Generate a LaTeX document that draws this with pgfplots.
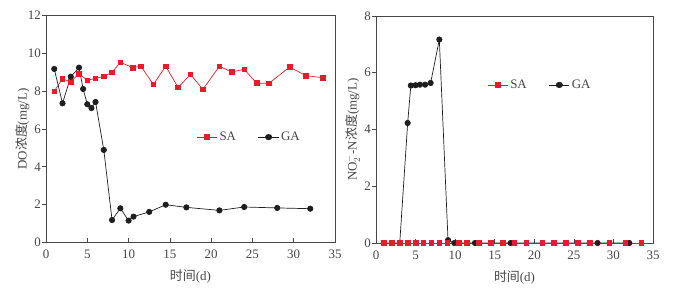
\documentclass[border=0pt]{standalone}
\usepackage{fontspec}
\setmainfont{Liberation Serif}
\newfontfamily\cjk{Noto Sans CJK SC}
\usepackage{pgfplots}
\pgfplotsset{compat=1.18}
\definecolor{sared}{RGB}{226,30,42}
\definecolor{gablack}{RGB}{30,30,30}
\definecolor{axgray}{RGB}{70,70,70}
\newcommand{\myfont}{\fontsize{13}{15}\selectfont}
\pgfplotsset{
  myaxis/.style={
    scale only axis,
    xmin=0, xmax=35,
    xtick={0,5,...,35},
    ymin=0,
    axis line style={axgray, line width=0.8pt},
    every tick/.style={axgray, line width=0.7pt},
    xtick pos=bottom, ytick pos=left,
    xtick align=inside, ytick align=outside,
    major tick length=4bp,
    tick label style={text=axgray, font=\myfont},
    yticklabel style={inner sep=1pt},
    xticklabel style={inner sep=7.5pt},
    /pgf/number format/assume math mode=true,
    label style={text=axgray, font=\myfont},
    xlabel={{\cjk 时间}(d)},
    xlabel style={yshift=0pt},
    legend style={draw=none, fill=none, legend columns=2, font=\myfont, text=axgray},
    legend cell align=left,
    legend image post style={xscale=1.2},
    /tikz/every even column/.append style={column sep=20pt},
  },
  saplot/.style={sared, line width=0.7pt, mark=square*, mark size=2.3pt, mark options={solid, fill=sared, draw=sared}},
  gaplot/.style={gablack, line width=0.7pt, mark=*, mark size=2.7pt, mark options={solid, fill=gablack, draw=gablack}},
}
\begin{document}
\begin{tikzpicture}[x=1bp,y=1bp]
\path[use as bounding box] (0,0) rectangle (686,290);
\begin{axis}[myaxis,
  at={(46bp,47.7bp)}, anchor=origin,
  width=289bp, height=226.6bp,
  ymax=12, ytick={0,2,...,12},
  ylabel={DO{\cjk 浓度}(mg/L)},
  ylabel style={yshift=-6pt},
  legend style={at={(axis cs:24.6,5.57)}, anchor=center},
]
\addplot[saplot] coordinates {
(1,8.0) (2,8.66) (3,8.49) (4,8.93) (5,8.58) (6,8.68) (7,8.79) (8,9.0) (9,9.53)
(10.5,9.25) (11.5,9.32) (13,8.36) (14.5,9.32) (16,8.2) (17.5,8.89) (19,8.1)
(21,9.32) (22.5,9.02) (24,9.16) (25.5,8.43) (27,8.42) (29.5,9.28) (31.5,8.82) (33.5,8.72)
};
\addlegendentry{SA}
\addplot[gaplot] coordinates {
(1,9.18) (2,7.36) (3,8.77) (4,9.25) (4.5,8.12) (5,7.31) (5.5,7.11) (6,7.43)
(7,4.89) (8,1.18) (9,1.8) (10,1.15) (10.6,1.36) (12.5,1.61) (14.5,1.99)
(17,1.85) (21,1.69) (24,1.87) (28,1.82) (32,1.78)
};
\addlegendentry{GA}
\end{axis}
\begin{axis}[myaxis,
  at={(376bp,47bp)}, anchor=origin,
  width=277bp, height=227bp,
  ymax=8, ytick={0,2,...,8},
  ylabel={NO$_2^{-}$-N{\cjk 浓度}(mg/L)},
  legend style={at={(axis cs:20.7,5.57)}, anchor=center},
]
\addplot[saplot] coordinates {
(1,0) (2,0) (3,0) (4,0) (5,0) (6,0) (7,0) (8,0) (9,0)
(10.5,0) (11.5,0) (13,0) (14.5,0) (16,0) (17.5,0) (19,0)
(21,0) (22.5,0) (24,0) (25.5,0) (27,0) (29.5,0) (31.5,0) (33.5,0)
};
\addlegendentry{SA}
\addplot[gaplot] coordinates {
(1,0) (2,0) (3,0) (4,4.23) (4.4,5.55) (5,5.56) (5.55,5.58) (6.2,5.58) (6.9,5.64)
(8,7.17) (9.1,0.1) (9.9,0) (12.5,0) (17,0) (28,0) (32,0)
};
\addlegendentry{GA}
\addplot[saplot, forget plot] coordinates {
(1,0) (2,0) (3,0) (4,0) (5,0) (6,0) (7,0) (8,0) (9,0)
(10.5,0) (11.5,0) (13,0) (14.5,0) (16,0) (17.5,0) (19,0)
(21,0) (22.5,0) (24,0) (25.5,0) (27,0) (29.5,0) (31.5,0) (33.5,0)
};
\end{axis}
\end{tikzpicture}
\end{document}
